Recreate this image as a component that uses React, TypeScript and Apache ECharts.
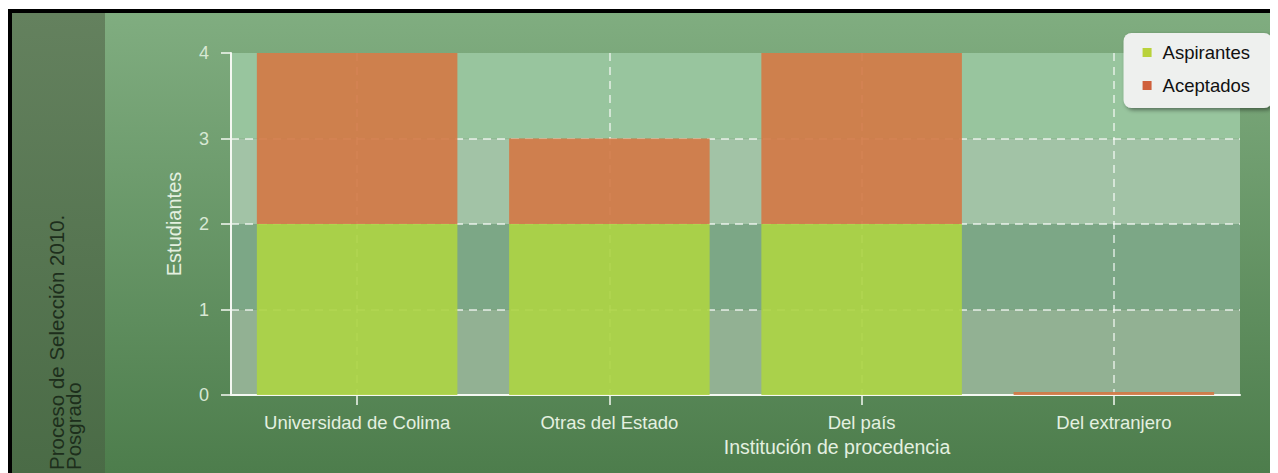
import React, { useEffect, useRef } from 'react';
import * as echarts from 'echarts';

const categories = ['Universidad de Colima', 'Otras del Estado', 'Del país', 'Del extranjero'];
const aspirantes = [2, 2, 2, 0];
const aceptados = [2, 1, 2, 0];
const seriesNames = ['Aspirantes', 'Aceptados'];
const yMin = 0;
const yMax = 4;
const yStep = 1;
const titleText = 'Proceso de Selección 2010.\nPosgrado';
const xAxisName = 'Institución de procedencia';
const yAxisName = 'Estudiantes';

export default function App() {
  const ref = useRef<HTMLDivElement>(null);
  useEffect(() => {
    document.documentElement.style.overflow = 'hidden';
    document.body.style.overflow = 'hidden';
    const chart = echarts.init(ref.current as HTMLDivElement, null, { renderer: 'svg' });
    const font = '"Liberation Sans", Arial, sans-serif';
    const W = 1270;
    const H = 465;
    chart.setOption({
      animation: false,
      grid: { left: 223, right: 38, top: 45, bottom: 78, containLabel: false },
      graphic: [
        { type: 'rect', z: -10, shape: { x: 0, y: 1, width: W, height: 4 }, style: { fill: '#000' } },
        { type: 'rect', z: -10, shape: { x: 0, y: 1, width: 4, height: H }, style: { fill: '#000' } },
        {
          type: 'rect', z: -10, shape: { x: 4, y: 5, width: 93, height: H - 5 },
          style: {
            fill: new echarts.graphic.LinearGradient(0, 0, 0, 1, [
              { offset: 0, color: '#64815e' },
              { offset: 1, color: '#4a6b46' },
            ]),
          },
        },
        {
          type: 'rect', z: -10, shape: { x: 97, y: 5, width: W - 97, height: H - 5 },
          style: {
            fill: new echarts.graphic.LinearGradient(0, 0, 0, 1, [
              { offset: 0, color: '#80ad80' },
              { offset: 1, color: '#4d7d4c' },
            ]),
          },
        },
        {
          type: 'text', z: 100, x: 40, y: 462, rotation: Math.PI / 2,
          style: {
            text: titleText, fill: '#1d2e1c', fontSize: 20.5, fontFamily: font,
            align: 'left', verticalAlign: 'top', lineHeight: 17,
          },
        },
        {
          type: 'text', z: 100, x: 829, y: 439,
          style: {
            text: xAxisName, fill: '#e4f0e0', fontSize: 19.5, fontFamily: font,
            align: 'center', verticalAlign: 'middle',
          },
        },
      ],
      legend: {
        orient: 'vertical',
        right: 6,
        top: 25,
        backgroundColor: '#eef0ee',
        borderRadius: 8,
        padding: [10, 22, 13, 19],
        itemGap: 14,
        itemWidth: 9,
        itemHeight: 9,
        icon: 'rect',
        shadowBlur: 4,
        shadowColor: 'rgba(0,0,0,0.45)',
        shadowOffsetX: 2,
        shadowOffsetY: 2,
        textStyle: { color: '#111', fontSize: 18.5, fontFamily: font, padding: [0, 0, 0, 6] },
        data: [
          { name: seriesNames[0], itemStyle: { color: '#b9d23a', opacity: 1 } },
          { name: seriesNames[1], itemStyle: { color: '#cf603b', opacity: 1 } },
        ],
      },
      xAxis: {
        type: 'category',
        data: categories,
        axisLine: { show: true, lineStyle: { color: '#f4f8f2', width: 2 } },
        axisTick: { show: true, alignWithLabel: true, length: 10, lineStyle: { color: '#f4f8f2', width: 1.5 } },
        axisLabel: { color: '#e4f0e0', fontSize: 18.5, fontFamily: font, margin: 18 },
        splitLine: {
          show: true,
          alignWithLabel: true,
          lineStyle: { color: 'rgba(255,255,255,0.75)', width: 1.5, type: [8, 6] },
        },
      },
      yAxis: {
        type: 'value',
        min: yMin,
        max: yMax,
        interval: yStep,
        name: yAxisName,
        nameLocation: 'middle',
        nameGap: 47,
        nameTextStyle: { color: '#e4f0e0', fontSize: 20, fontFamily: font },
        axisLine: { show: true, lineStyle: { color: '#f4f8f2', width: 2 } },
        axisTick: { show: true, length: 10, lineStyle: { color: '#f4f8f2', width: 1.5 } },
        axisLabel: { color: '#d8e8d4', fontSize: 18, fontFamily: font, margin: 22 },
        splitLine: {
          show: true,
          showMaxLine: false,
          lineStyle: { color: 'rgba(255,255,255,0.8)', width: 1.5, type: [8, 6] },
        },
        splitArea: {
          show: true,
          areaStyle: { color: ['#92b193', '#7ca786', '#a2c3a6', '#98c59e'] },
        },
      },
      series: [
        {
          name: seriesNames[0],
          type: 'bar',
          stack: 'total',
          data: aspirantes,
          barWidth: '79.5%',
          itemStyle: { color: '#acd444', opacity: 0.92 },
        },
        {
          name: seriesNames[1],
          type: 'bar',
          stack: 'total',
          data: aceptados,
          barWidth: '79.5%',
          barMinHeight: 3,
          itemStyle: { color: '#d27a46', opacity: 0.92 },
        },
      ],
    });
    return () => chart.dispose();
  }, []);
  return <div ref={ref} style={{ width: 1270, height: 465 }} />;
}
